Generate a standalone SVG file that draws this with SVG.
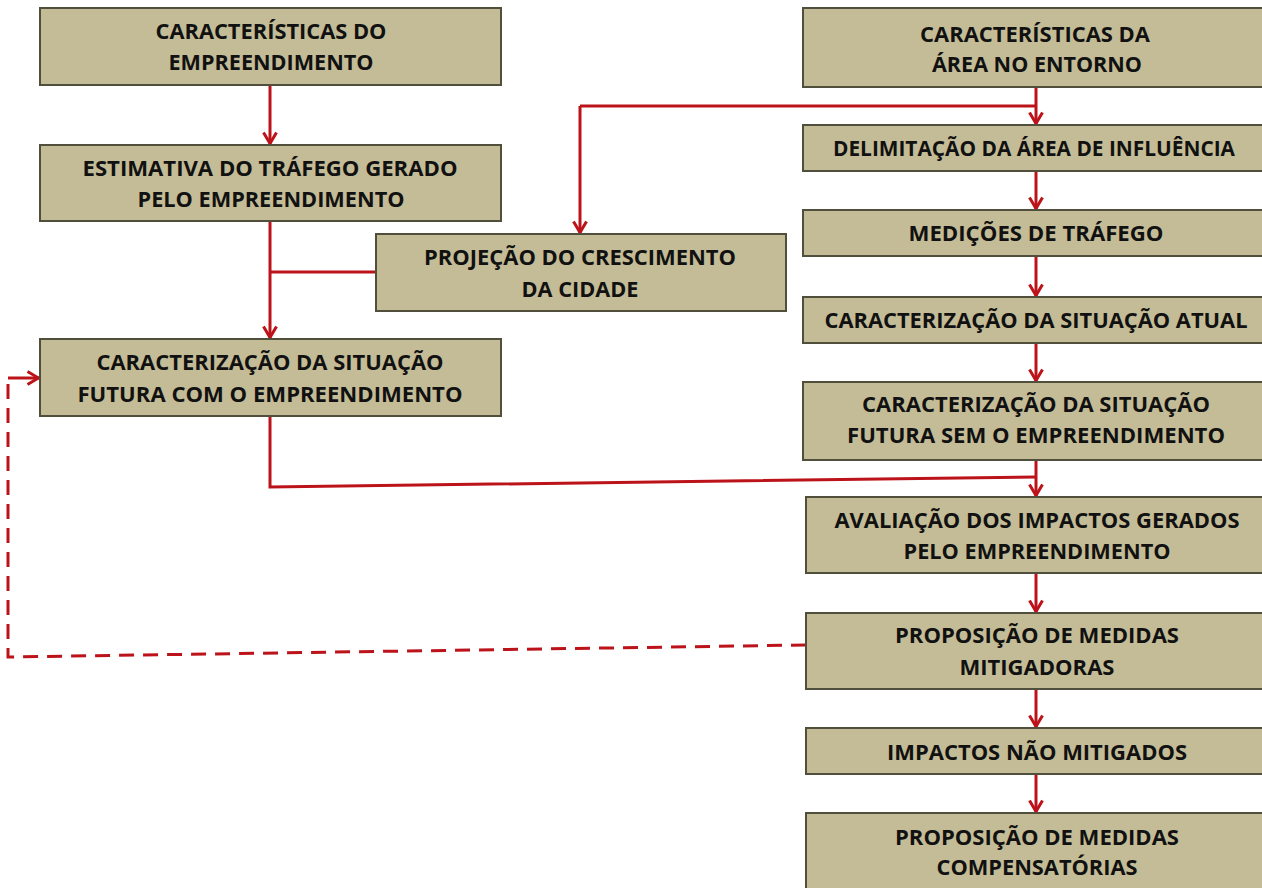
<svg xmlns="http://www.w3.org/2000/svg" width="1262" height="888" viewBox="0 0 1262 888">
<style>
.box{fill:#C4BC96;stroke:#4F4F3C;stroke-width:2}
.t{font-family:"Open Sans","Liberation Sans",sans-serif;font-weight:700;font-size:21.5px;fill:#111;text-anchor:middle}
.c{fill:none;stroke:#BC1219;stroke-width:3}
.d{fill:none;stroke:#BC1219;stroke-width:3;stroke-dasharray:15,9}
</style>
<defs>
<marker id="ah" viewBox="0 0 14 16" refX="13" refY="8" markerWidth="14" markerHeight="16" markerUnits="userSpaceOnUse" orient="auto">
<path d="M1.5,1.5 L12.5,8 L1.5,14.5" fill="none" stroke="#BC1219" stroke-width="3"/>
</marker>
</defs>
<rect width="1262" height="888" fill="#fff"/>
<g id="connectors">
<path class="c" d="M270,86 V144" marker-end="url(#ah)"/>
<path class="c" d="M270,222 V338" marker-end="url(#ah)"/>
<path class="c" d="M270,272 H376"/>
<path class="c" d="M270,416 V487 L1036,477"/>
<path class="c" d="M580,106 H1036"/>
<path class="c" d="M580,106 V233" marker-end="url(#ah)"/>
<path class="c" d="M1036,87 V124" marker-end="url(#ah)"/>
<path class="c" d="M1036,171 V209" marker-end="url(#ah)"/>
<path class="c" d="M1036,256 V296" marker-end="url(#ah)"/>
<path class="c" d="M1036,343 V381" marker-end="url(#ah)"/>
<path class="c" d="M1036,460 V496" marker-end="url(#ah)"/>
<path class="c" d="M1036,573 V612" marker-end="url(#ah)"/>
<path class="c" d="M1036,689 V727" marker-end="url(#ah)"/>
<path class="c" d="M1036,774 V812" marker-end="url(#ah)"/>
<path class="d" d="M806,645 L8,657 V378"/>
<path class="c" d="M8,378 H39" marker-end="url(#ah)"/>
</g>
<g id="n1"><rect class="box" x="40" y="8" width="461" height="77"/>
<text class="t" x="271" y="39" textLength="231" lengthAdjust="spacingAndGlyphs">CARACTERÍSTICAS DO</text>
<text class="t" x="271" y="70" textLength="205" lengthAdjust="spacingAndGlyphs">EMPREENDIMENTO</text></g>
<g id="n2"><rect class="box" x="40" y="145" width="461" height="76"/>
<text class="t" x="270" y="176" textLength="375" lengthAdjust="spacingAndGlyphs">ESTIMATIVA DO TRÁFEGO GERADO</text>
<text class="t" x="271" y="207" textLength="267" lengthAdjust="spacingAndGlyphs">PELO EMPREENDIMENTO</text></g>
<g id="n3"><rect class="box" x="376" y="234" width="410" height="77"/>
<text class="t" x="580" y="265" textLength="312" lengthAdjust="spacingAndGlyphs">PROJEÇÃO DO CRESCIMENTO</text>
<text class="t" x="580" y="297" textLength="117" lengthAdjust="spacingAndGlyphs">DA CIDADE</text></g>
<g id="n4"><rect class="box" x="40" y="339" width="461" height="77"/>
<text class="t" x="270" y="370" textLength="347" lengthAdjust="spacingAndGlyphs">CARACTERIZAÇÃO DA SITUAÇÃO</text>
<text class="t" x="270" y="402" textLength="385" lengthAdjust="spacingAndGlyphs">FUTURA COM O EMPREENDIMENTO</text></g>
<g id="n5"><rect class="box" x="803" y="8" width="470" height="79"/>
<text class="t" x="1035" y="42" textLength="230" lengthAdjust="spacingAndGlyphs">CARACTERÍSTICAS DA</text>
<text class="t" x="1037" y="72" textLength="210" lengthAdjust="spacingAndGlyphs">ÁREA NO ENTORNO</text></g>
<g id="n6"><rect class="box" x="803" y="125" width="470" height="46"/>
<text class="t" x="1034" y="156" textLength="402" lengthAdjust="spacingAndGlyphs">DELIMITAÇÃO DA ÁREA DE INFLUÊNCIA</text></g>
<g id="n7"><rect class="box" x="803" y="210" width="470" height="46"/>
<text class="t" x="1036" y="241" textLength="255" lengthAdjust="spacingAndGlyphs">MEDIÇÕES DE TRÁFEGO</text></g>
<g id="n8"><rect class="box" x="803" y="297" width="470" height="46"/>
<text class="t" x="1036" y="328" textLength="423" lengthAdjust="spacingAndGlyphs">CARACTERIZAÇÃO DA SITUAÇÃO ATUAL</text></g>
<g id="n9"><rect class="box" x="803" y="382" width="470" height="78"/>
<text class="t" x="1036" y="412" textLength="348" lengthAdjust="spacingAndGlyphs">CARACTERIZAÇÃO DA SITUAÇÃO</text>
<text class="t" x="1036" y="443" textLength="378" lengthAdjust="spacingAndGlyphs">FUTURA SEM O EMPREENDIMENTO</text></g>
<g id="n10"><rect class="box" x="806" y="497" width="467" height="76"/>
<text class="t" x="1037" y="528" textLength="405" lengthAdjust="spacingAndGlyphs">AVALIAÇÃO DOS IMPACTOS GERADOS</text>
<text class="t" x="1037" y="559" textLength="267" lengthAdjust="spacingAndGlyphs">PELO EMPREENDIMENTO</text></g>
<g id="n11"><rect class="box" x="806" y="613" width="467" height="76"/>
<text class="t" x="1037" y="643" textLength="284" lengthAdjust="spacingAndGlyphs">PROPOSIÇÃO DE MEDIDAS</text>
<text class="t" x="1037" y="675" textLength="155" lengthAdjust="spacingAndGlyphs">MITIGADORAS</text></g>
<g id="n12"><rect class="box" x="806" y="728" width="467" height="46"/>
<text class="t" x="1037" y="760" textLength="300" lengthAdjust="spacingAndGlyphs">IMPACTOS NÃO MITIGADOS</text></g>
<g id="n13"><rect class="box" x="806" y="813" width="467" height="80"/>
<text class="t" x="1037" y="845" textLength="284" lengthAdjust="spacingAndGlyphs">PROPOSIÇÃO DE MEDIDAS</text>
<text class="t" x="1037" y="875" textLength="201" lengthAdjust="spacingAndGlyphs">COMPENSATÓRIAS</text></g>
</svg>
